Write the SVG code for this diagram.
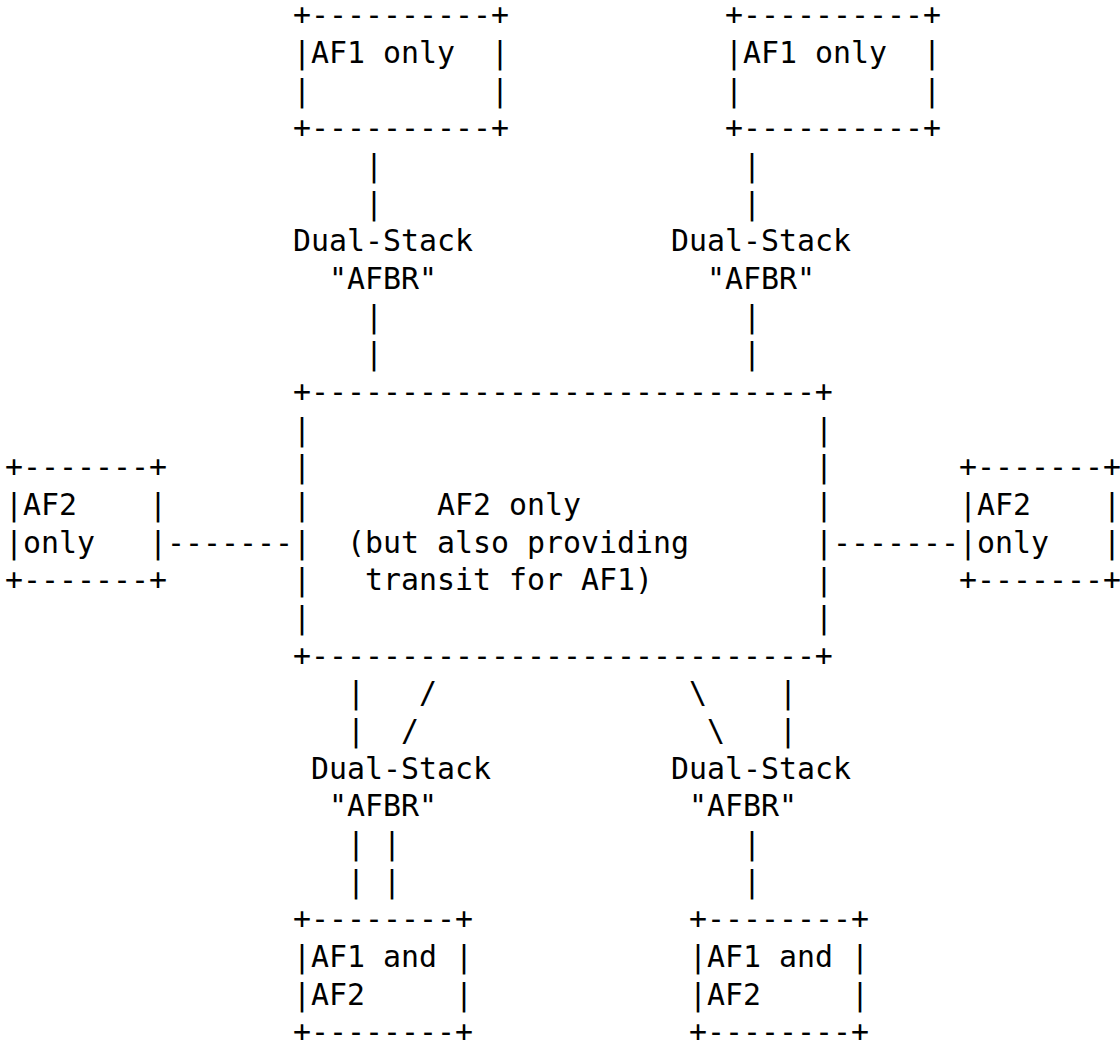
<svg xmlns="http://www.w3.org/2000/svg" width="1120" height="1044" viewBox="0 0 1120 1044">
<style>
.t{font-family:"DejaVu Sans Mono","Liberation Mono",monospace;font-size:29.9px;fill:#000}
</style>
<rect width="1120" height="1044" fill="#fff"/>
<g id="af1-top-left" class="t">
<text x="293" y="25.3">+----------+</text>
<text x="293" y="62.97">|AF1&#160;only&#160;&#160;|</text>
<text x="293" y="100.64">|&#160;&#160;&#160;&#160;&#160;&#160;&#160;&#160;&#160;&#160;|</text>
<text x="293" y="138.31">+----------+</text>
</g>
<g id="af1-top-right" class="t">
<text x="725" y="25.3">+----------+</text>
<text x="725" y="62.97">|AF1&#160;only&#160;&#160;|</text>
<text x="725" y="100.64">|&#160;&#160;&#160;&#160;&#160;&#160;&#160;&#160;&#160;&#160;|</text>
<text x="725" y="138.31">+----------+</text>
</g>
<g id="afbr-top-left" class="t">
<text x="293" y="251.32">Dual-Stack</text>
<text x="329" y="288.99">"AFBR"</text>
</g>
<g id="afbr-top-right" class="t">
<text x="671" y="251.32">Dual-Stack</text>
<text x="707" y="288.99">"AFBR"</text>
</g>
<g id="af2-core" class="t">
<text x="293" y="402.0">+----------------------------+</text>
<text x="293" y="439.67">|</text><text x="815" y="439.67">|</text>
<text x="293" y="477.34">|</text><text x="815" y="477.34">|</text>
<text x="293" y="515.01">|</text><text x="437" y="515.01">AF2&#160;only</text><text x="815" y="515.01">|</text>
<text x="293" y="552.68">|</text><text x="347" y="552.68">(but&#160;also&#160;providing</text><text x="815" y="552.68">|</text>
<text x="293" y="590.35">|</text><text x="365" y="590.35">transit&#160;for&#160;AF1)</text><text x="815" y="590.35">|</text>
<text x="293" y="628.02">|</text><text x="815" y="628.02">|</text>
<text x="293" y="665.69">+----------------------------+</text>
</g>
<g id="af2-left" class="t">
<text x="5" y="477.34">+-------+</text>
<text x="5" y="515.01">|AF2&#160;&#160;&#160;&#160;|</text>
<text x="5" y="552.68">|only&#160;&#160;&#160;|</text>
<text x="5" y="590.35">+-------+</text>
</g>
<g id="af2-right" class="t">
<text x="959" y="477.34">+-------+</text>
<text x="959" y="515.01">|AF2&#160;&#160;&#160;&#160;|</text>
<text x="959" y="552.68">|only&#160;&#160;&#160;|</text>
<text x="959" y="590.35">+-------+</text>
</g>
<g id="afbr-bottom-left" class="t">
<text x="311" y="778.7">Dual-Stack</text>
<text x="329" y="816.37">"AFBR"</text>
</g>
<g id="afbr-bottom-right" class="t">
<text x="671" y="778.7">Dual-Stack</text>
<text x="689" y="816.37">"AFBR"</text>
</g>
<g id="af12-bottom-left" class="t">
<text x="293" y="929.38">+--------+</text>
<text x="293" y="967.05">|AF1&#160;and&#160;|</text>
<text x="293" y="1004.72">|AF2&#160;&#160;&#160;&#160;&#160;|</text>
<text x="293" y="1042.39">+--------+</text>
</g>
<g id="af12-bottom-right" class="t">
<text x="689" y="929.38">+--------+</text>
<text x="689" y="967.05">|AF1&#160;and&#160;|</text>
<text x="689" y="1004.72">|AF2&#160;&#160;&#160;&#160;&#160;|</text>
<text x="689" y="1042.39">+--------+</text>
</g>
<g id="connectors" class="t">
<text x="365" y="175.98">|</text>
<text x="365" y="213.65">|</text>
<text x="743" y="175.98">|</text>
<text x="743" y="213.65">|</text>
<text x="365" y="326.66">|</text>
<text x="365" y="364.33">|</text>
<text x="743" y="326.66">|</text>
<text x="743" y="364.33">|</text>
<text x="167" y="552.68">-------</text>
<text x="833" y="552.68">-------</text>
<text x="347" y="703.36">|</text>
<text x="419" y="703.36">/</text>
<text x="689" y="703.36">\</text>
<text x="779" y="703.36">|</text>
<text x="347" y="741.03">|</text>
<text x="401" y="741.03">/</text>
<text x="707" y="741.03">\</text>
<text x="779" y="741.03">|</text>
<text x="347" y="854.04">|</text>
<text x="383" y="854.04">|</text>
<text x="743" y="854.04">|</text>
<text x="347" y="891.71">|</text>
<text x="383" y="891.71">|</text>
<text x="743" y="891.71">|</text>
</g>
</svg>
